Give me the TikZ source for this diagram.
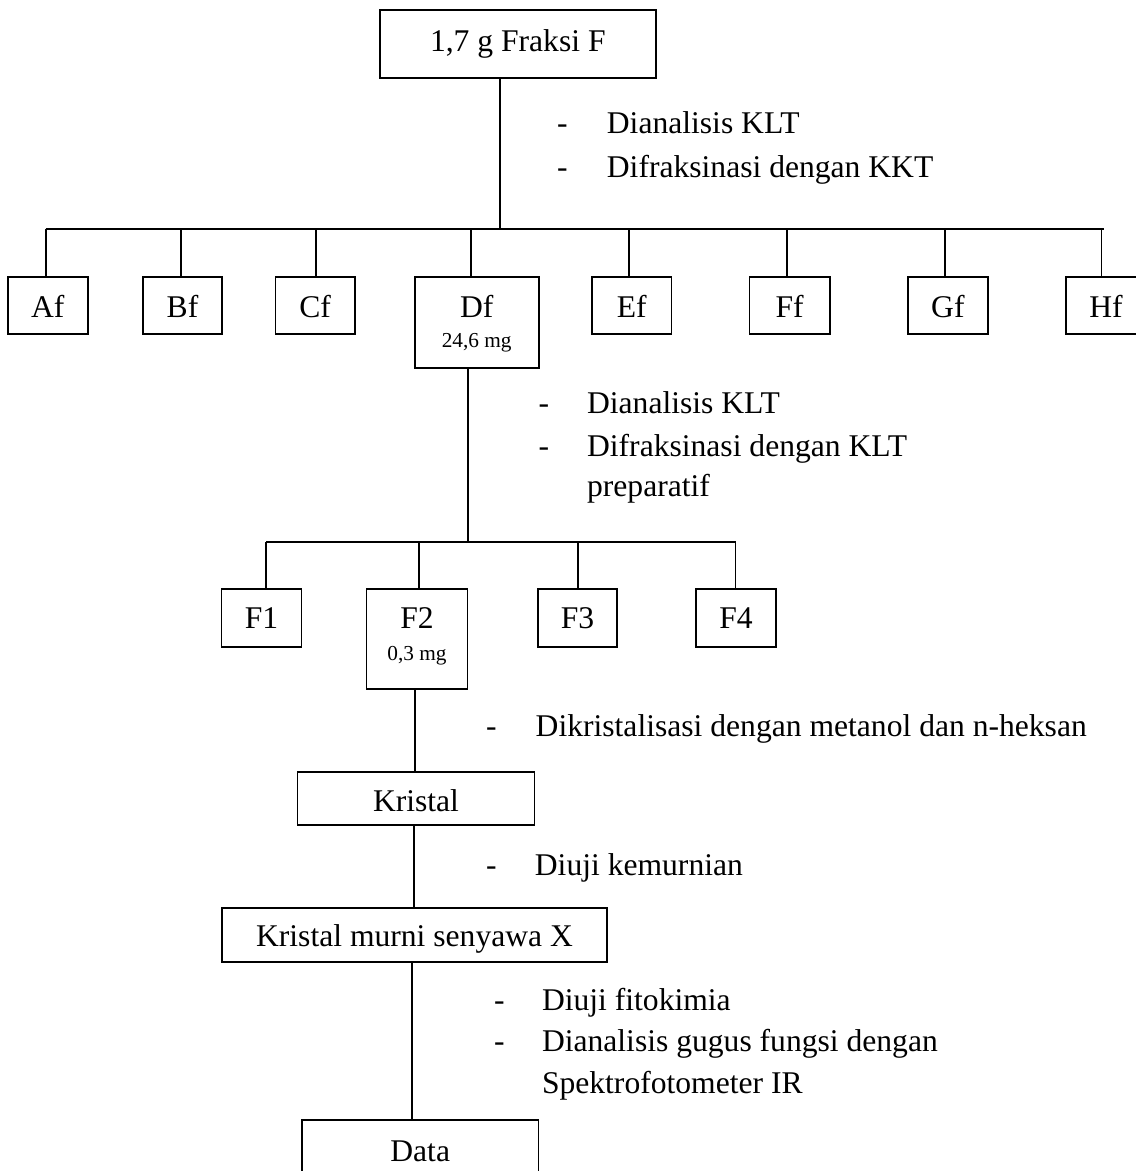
\documentclass[tikz,border=0pt]{standalone}
\usepackage{fontspec}
\setmainfont{Liberation Serif}
\newcommand\mainsz{\fontsize{31.6}{37}\selectfont}
\newcommand\smallsz{\fontsize{21.3}{25}\selectfont}
\tikzset{
  box/.style={draw, line width=1.7pt, inner sep=0pt, anchor=base, font=\mainsz},
  lbl/.style={inner sep=0pt, anchor=base west, font=\mainsz},
  mass/.style={inner sep=0pt, anchor=base, font=\smallsz},
  conn/.style={line width=1.7pt},
}
\begin{document}
\begin{tikzpicture}[x=1pt,y=-1pt]
\useasboundingbox (0,0) rectangle (1136,1171);
\clip (0,0) rectangle (1136,1171);
\fill[white] (0,0) rectangle (1136,1171);

% top box
\node[box, minimum width=275.7pt, text height=41.7pt, text depth=26.3pt] (F0) at (517.8,51.7) {1,7 g Fraksi F};
\coordinate (b0) at (500,229);
\coordinate (hL) at (45.7,229);
\coordinate (hR) at (1104.3,229);
\draw[conn] (F0.south -| b0) -- (b0);
\draw[conn] (hL) -- (hR);

% list 1
\node[lbl] (d1a) at (557,133.3) {-};
\node[lbl] (t1a) at (606.7,133.3) {Dianalisis KLT};
\node[lbl] (d1b) at (557,177.3) {-};
\node[lbl] (t1b) at (606.7,177.3) {Difraksinasi dengan KKT};

% level 1 boxes
\tikzset{l1/.style={box, text height=40.6pt, text depth=17pt}}
\node[l1, minimum width=79.7pt] (Af) at (47.85,317.3) {Af};
\node[l1, minimum width=79.6pt] (Bf) at (182.5,317.3) {Bf};
\node[l1, minimum width=79.7pt] (Cf) at (315.2,317.3) {Cf};
\node[box, minimum width=124pt, text height=40.6pt, text depth=50.7pt] (Df) at (476.7,317.3) {Df};
\node[mass] (Dfm) at (476.7,347) {24,6 mg};
\node[l1, minimum width=79.3pt] (Ef) at (631.7,317.3) {Ef};
\node[l1, minimum width=80.2pt] (Ff) at (789.6,317.3) {Ff};
\node[l1, minimum width=79.7pt] (Gf) at (947.9,317.3) {Gf};
\node[l1, minimum width=80pt] (Hf) at (1106,317.3) {Hf};

\coordinate (tA) at (45.7,229);
\coordinate (tB) at (180.7,229);
\coordinate (tC) at (315.7,229);
\coordinate (tD) at (470.7,229);
\coordinate (tE) at (629,229);
\coordinate (tF) at (786.7,229);
\coordinate (tG) at (945.3,229);
\coordinate (tH) at (1101.5,229);
\draw[conn] (tA) -- (tA |- Af.north);
\draw[conn] (tB) -- (tB |- Bf.north);
\draw[conn] (tC) -- (tC |- Cf.north);
\draw[conn] (tD) -- (tD |- Df.north);
\draw[conn] (tE) -- (tE |- Ef.north);
\draw[conn] (tF) -- (tF |- Ff.north);
\draw[conn] (tG) -- (tG |- Gf.north);
\draw[conn] (tH) -- (tH |- Hf.north);

% Df down
\coordinate (b1) at (467.7,542.3);
\coordinate (h2L) at (266.3,542.3);
\coordinate (h2R) at (735.5,542.3);
\draw[conn] (Df.south -| b1) -- (b1);
\draw[conn] (h2L) -- (h2R);

% list 2
\node[lbl] (d2a) at (538.5,413.3) {-};
\node[lbl] (t2a) at (586.9,413.3) {Dianalisis KLT};
\node[lbl] (d2b) at (538.5,456) {-};
\node[lbl] (t2b) at (586.9,456) {Difraksinasi dengan KLT};
\node[lbl] (t2c) at (586.9,496.7) {preparatif};

% level 2 boxes
\tikzset{l2/.style={box, text height=39pt, text depth=18.4pt}}
\node[l2, minimum width=80pt] (F1) at (261.5,628.3) {F1};
\node[box, minimum width=101pt, text height=39pt, text depth=60.7pt] (F2) at (417,628.3) {F2};
\node[mass] (F2m) at (417,660) {0,3 mg};
\node[l2, minimum width=79.4pt] (F3) at (577.6,628.3) {F3};
\node[l2, minimum width=80pt] (F4) at (736,628.3) {F4};

\coordinate (s1) at (266.3,542.3);
\coordinate (s2) at (419,542.3);
\coordinate (s3) at (577.9,542.3);
\coordinate (s4) at (735.5,542.3);
\draw[conn] (s1) -- (s1 |- F1.north);
\draw[conn] (s2) -- (s2 |- F2.north);
\draw[conn] (s3) -- (s3 |- F3.north);
\draw[conn] (s4) -- (s4 |- F4.north);

% Kristal
\node[box, minimum width=237pt, text height=39.4pt, text depth=13.6pt] (Kr) at (416,811.7) {Kristal};
\coordinate (c2) at (415,700);
\draw[conn] (F2.south -| c2) -- (c2 |- Kr.north);

\node[lbl] (d3) at (486,736.7) {-};
\node[lbl] (t3) at (535.5,736.7) {Dikristalisasi dengan metanol dan n-heksan};

% Kristal murni
\node[box, minimum width=385pt, text height=38.4pt, text depth=15.3pt] (KM) at (414.5,946.7) {Kristal murni senyawa X};
\coordinate (c3) at (414.3,850);
\draw[conn] (Kr.south -| c3) -- (c3 |- KM.north);

\node[lbl] (d4) at (486,875) {-};
\node[lbl] (t4) at (534.7,875) {Diuji kemurnian};

% Data
\node[box, minimum width=236.3pt, text height=41pt, text depth=20pt] (Data) at (420.2,1161) {Data};
\coordinate (c4) at (412.3,1000);
\draw[conn] (KM.south -| c4) -- (c4 |- Data.north);

\node[lbl] (d5a) at (494,1010) {-};
\node[lbl] (t5a) at (541.8,1010) {Diuji fitokimia};
\node[lbl] (d5b) at (494,1051.7) {-};
\node[lbl] (t5b) at (541.8,1051.7) {Dianalisis gugus fungsi dengan};
\node[lbl] (t5c) at (541.8,1093.3) {Spektrofotometer IR};
\end{tikzpicture}
\end{document}
